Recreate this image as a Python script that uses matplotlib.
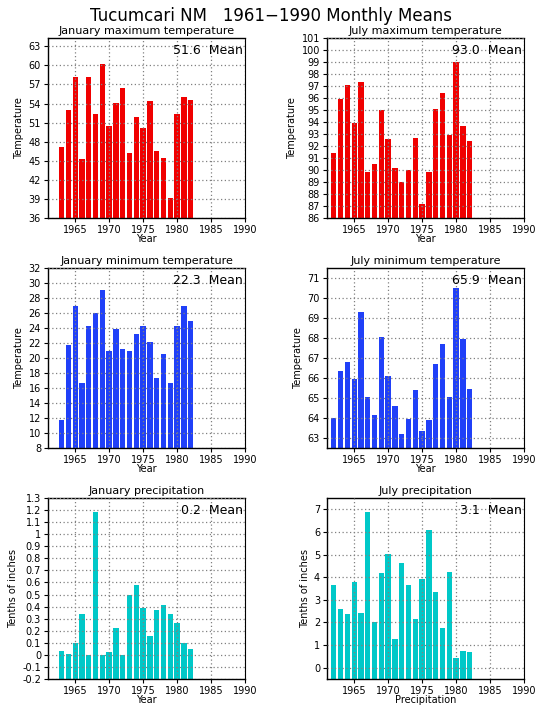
import matplotlib
matplotlib.use("Agg")
import matplotlib.pyplot as plt
from matplotlib.ticker import MultipleLocator, FuncFormatter

# data
years_jan = list(range(1963, 1983))
years_jul = list(range(1962, 1983))

jan_max = [47.1, 53.0, 58.2, 45.2, 58.2, 52.4, 60.2, 50.4, 54.1, 56.5,
           46.2, 51.9, 50.2, 54.4, 46.5, 45.4, 39.2, 52.3, 55.1, 54.6]
jul_max = [91.4, 95.9, 97.1, 93.9, 97.3, 89.8, 90.5, 95.0, 92.6, 90.2, 89.0,
           90.0, 92.7, 87.2, 89.8, 95.1, 96.4, 92.9, 99.0, 93.7, 92.4]
jan_min = [11.8, 21.8, 26.9, 16.7, 24.3, 26.0, 29.1, 21.0, 23.9, 21.2,
           21.0, 23.2, 24.3, 22.2, 17.4, 20.6, 16.7, 24.3, 27.0, 25.0]
jul_min = [64.0, 66.35, 66.8, 65.95, 69.3, 65.05, 64.15, 68.05, 66.1, 64.6, 63.2,
           63.95, 65.4, 63.35, 63.9, 66.7, 67.7, 65.05, 70.5, 67.95, 65.45]
jan_prcp = [0.035, 0.01, 0.10, 0.335, 0.0, 1.18, 0.0, 0.02, 0.22, 0.0,
            0.495, 0.575, 0.385, 0.155, 0.37, 0.41, 0.335, 0.26, 0.10, 0.045]
jul_prcp = [3.65, 2.6, 2.37, 3.8, 2.42, 6.88, 2.02, 4.2, 5.03, 1.27, 4.63,
            3.65, 2.15, 3.93, 6.08, 3.35, 1.77, 4.23, 0.45, 0.75, 0.70]

means = ["51.6", "93.0", "22.3", "65.9", "0.2", "3.1"]
titles = ["January maximum temperature", "July maximum temperature",
          "January minimum temperature", "July minimum temperature",
          "January precipitation", "July precipitation"]

RED = "#f00000"
BLUE = "#2040f8"
CYAN = "#00c8c8"

panels = [
    (years_jan, jan_max, RED, (36, 64.3), 3, "Temperature", "Year"),
    (years_jul, jul_max, RED, (86, 101), 1, "Temperature", "Year"),
    (years_jan, jan_min, BLUE, (8, 32), 2, "Temperature", "Year"),
    (years_jul, jul_min, BLUE, (62.5, 71.5), 1, "Temperature", "Year"),
    (years_jan, jan_prcp, CYAN, (-0.2, 1.3), 0.1, "Tenths of inches", "Year"),
    (years_jul, jul_prcp, CYAN, (-0.5, 7.5), 1, "Tenths of inches", "Precipitation"),
]


def short_fmt(v, pos):
    if abs(v) < 1e-9:
        return "0"
    return ("%.1f" % v).rstrip("0").rstrip(".")


W, H = 543, 711
fig = plt.figure(figsize=(W / 100, H / 100), dpi=100)

# axes boxes in pixels: left, right, top, bottom
cols = [(48, 245), (327, 524)]
rows = [(38, 218), (268, 448), (498, 679)]

for i, (yrs, vals, col, ylim, step, ylab, xlab) in enumerate(panels):
    x0, x1 = cols[i % 2]
    t, b = rows[i // 2]
    ax = fig.add_axes([x0 / W, 1 - b / H, (x1 - x0) / W, (b - t) / H])
    base = ylim[0]
    ax.bar(yrs, [v - base for v in vals], bottom=base, width=0.78,
           color=col, zorder=1)
    ax.set_xlim(1961, 1990)
    ax.set_ylim(*ylim)
    ax.set_xticks([1965, 1970, 1975, 1980, 1985, 1990])
    ax.yaxis.set_major_locator(MultipleLocator(step))
    ax.yaxis.set_major_formatter(FuncFormatter(short_fmt))
    ax.grid(True, color="#808080", linestyle=(0, (1, 2)), linewidth=0.9, zorder=2)
    ax.set_axisbelow(False)
    for s in ["left", "bottom", "top"]:
        ax.spines[s].set_linewidth(1.0)
    ax.spines["right"].set_linestyle((0, (1, 1)))
    ax.tick_params(labelsize=7, length=3, width=0.8, pad=2)
    ax.set_ylabel(ylab, fontsize=7, labelpad=3)
    ax.set_xlabel(xlab, fontsize=7, labelpad=-1)
    ax.set_title(titles[i], fontsize=8, pad=3)
    ax.text(0.99, 0.93, means[i] + "  Mean", transform=ax.transAxes,
            ha="right", va="center", fontsize=9, zorder=3)

fig.text(0.5, 1 - 16 / H, "Tucumcari NM   1961\u22121990 Monthly Means",
         ha="center", va="center", fontsize=12)

fig.savefig("out.png", dpi=100)
